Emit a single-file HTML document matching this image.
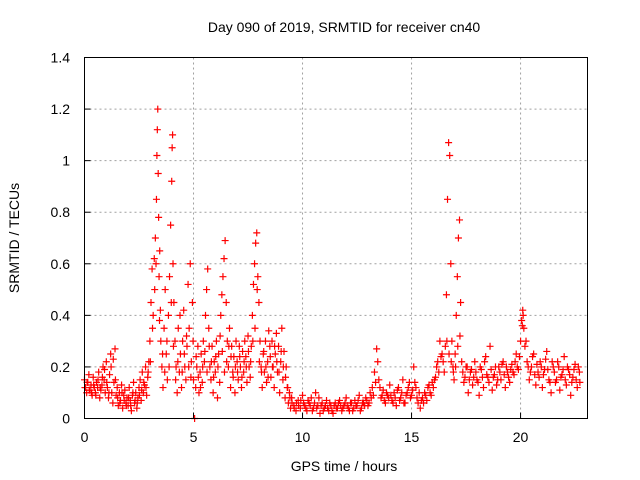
<!DOCTYPE html>
<html><head><meta charset="utf-8"><style>
html,body{margin:0;padding:0;background:#fff;}
svg{display:block;font-family:"Liberation Sans",sans-serif;}
</style></head><body>
<svg id="chart" width="640" height="480" viewBox="0 0 640 480">
<rect x="0" y="0" width="640" height="480" fill="#fff"/>
<text x="344" y="32" font-size="14" text-anchor="middle" fill="#000">Day 090 of 2019, SRMTID for receiver cn40</text>
<text x="344" y="471" font-size="14" text-anchor="middle" fill="#000">GPS time / hours</text>
<text x="19" y="238" font-size="14" text-anchor="middle" fill="#000" transform="rotate(-90 19 238)">SRMTID / TECUs</text>
<g id="grid"></g>
<g id="ticks"></g>
<g id="marks"></g>
<rect x="84.5" y="57.5" width="503" height="361" fill="none" stroke="#000" stroke-width="1"/>
</svg>
<script>
const xTicks = [0,5,10,15,20];
const yTicks = [0,0.2,0.4,0.6,0.8,1,1.2,1.4];
const yTickLabels = ["0","0.2","0.4","0.6","0.8","1","1.2","1.4"];
const hours = [0,0.05,0.1,0.15,0.2,0.25,0.3,0.35,0.4,0.45,0.5,0.55,0.6,0.65,0.7,0.75,0.8,0.85,0.9,0.95,
1,1.05,1.1,1.15,1.2,1.25,1.3,1.35,1.4,1.45,1.5,1.55,1.6,1.65,1.7,1.75,1.8,1.85,1.9,1.95,
2,2.05,2.1,2.15,2.2,2.25,2.3,2.35,2.4,2.45,2.5,2.55,2.6,2.65,2.7,2.75,2.8,2.85,2.9,2.95,
3,3.05,3.1,3.15,3.2,3.25,3.3,3.32,3.34,3.36,3.38,3.4,3.42,3.45,3.48,3.5,3.55,3.6,3.65,3.7,3.75,3.8,3.85,3.9,3.95,4,4.02,4.04,4.06,4.1,4.15,4.2,4.25,4.3,4.35,4.4,4.45,4.5,4.55,4.6,4.65,4.7,4.75,4.8,4.85,4.9,4.95,
5,5.05,5.1,5.15,5.2,5.25,5.3,5.35,5.4,5.45,5.5,5.55,5.6,5.65,5.7,5.75,5.8,5.85,5.9,5.95,
6,6.05,6.1,6.15,6.2,6.25,6.3,6.35,6.4,6.45,6.5,6.55,6.6,6.65,6.7,6.75,6.8,6.85,6.9,6.95,
7,7.05,7.1,7.15,7.2,7.25,7.3,7.35,7.4,7.45,7.5,7.55,7.6,7.65,7.7,7.75,7.8,7.85,7.9,7.95,
8,8.05,8.1,8.15,8.2,8.25,8.3,8.35,8.4,8.45,8.5,8.55,8.6,8.65,8.7,8.75,8.8,8.85,8.9,8.95,
9,9.05,9.1,9.15,9.2,9.25,9.3,9.35,9.4,9.45,9.5,9.6,9.7,9.8,9.9,
10,10.1,10.2,10.3,10.4,10.5,10.6,10.7,10.8,10.9,11,11.1,11.2,11.3,11.4,11.5,11.6,11.7,11.8,11.9,
12,12.1,12.2,12.3,12.4,12.5,12.6,12.7,12.8,12.9,13,13.1,13.2,13.3,13.4,13.45,13.5,13.6,13.7,13.8,13.9,
14,14.1,14.2,14.3,14.4,14.5,14.6,14.7,14.8,14.9,15,15.1,15.2,15.3,15.4,15.5,15.6,15.7,15.8,15.9,
16,16.1,16.2,16.3,16.4,16.5,16.6,16.65,16.7,16.75,16.8,16.85,16.9,16.95,17,17.05,17.1,17.15,17.2,17.25,17.3,17.4,17.5,17.6,17.7,17.8,17.9,
18,18.1,18.2,18.3,18.4,18.5,18.6,18.7,18.8,18.9,19,19.1,19.2,19.3,19.4,19.5,19.6,19.7,19.8,19.9,
20,20.05,20.1,20.15,20.2,20.3,20.4,20.5,20.6,20.7,20.8,20.9,21,21.1,21.2,21.3,21.4,21.5,21.6,21.7,21.8,21.9,
22,22.1,22.2,22.3,22.4,22.5,22.6,22.7];
const tecu = [.15,.12,.10,.14,.17,.11,.13,.09,.16,.12,.10,.14,.12,.18,.08,.11,.13,.20,.15,.10,
.22,.12,.08,.17,.25,.10,.06,.14,.27,.09,.12,.05,.10,.07,.13,.04,.09,.11,.06,.08,
.05,.12,.07,.03,.09,.14,.06,.10,.04,.08,.12,.15,.07,.18,.10,.13,.20,.09,.16,.22,
.30,.45,.58,.40,.62,.70,.85,1.02,1.12,1.20,.95,.78,.55,.65,.42,.30,.20,.12,.35,.50,.25,.15,.40,.55,.75,.92,1.05,1.10,.60,.45,.30,.20,.10,.35,.18,.25,.12,.30,.42,.20,.15,.28,.52,.35,.60,.22,.45,
.15,0,.12,.20,.28,.10,.18,.25,.14,.30,.22,.40,.50,.58,.35,.20,.15,.28,.10,.22,
.18,.30,.08,.25,.14,.40,.48,.55,.62,.69,.45,.30,.20,.35,.12,.28,.18,.24,.10,.30,
.22,.15,.28,.20,.12,.26,.18,.30,.24,.14,.32,.20,.16,.28,.40,.52,.60,.68,.72,.55,
.45,.30,.20,.12,.25,.18,.30,.14,.22,.34,.28,.16,.30,.20,.12,.25,.33,.18,.28,.10,
.22,.35,.15,.26,.08,.20,.12,.06,.10,.04,.08,.05,.03,.07,.04,
.09,.05,.03,.06,.08,.04,.10,.05,.02,.06,.04,.07,.03,.05,.02,.06,.04,.07,.03,.05,
.08,.04,.06,.03,.07,.05,.09,.04,.06,.08,.05,.10,.12,.18,.27,.22,.15,.08,.11,.06,.09,
.13,.07,.10,.05,.12,.08,.15,.06,.10,.14,.09,.20,.12,.06,.04,.08,.10,.07,.13,.09,
.12,.16,.22,.30,.25,.18,.48,.85,1.07,1.02,.60,.30,.20,.15,.25,.40,.55,.70,.77,.45,.22,.14,.20,.10,.18,.13,.22,
.15,.09,.19,.12,.24,.16,.28,.11,.17,.13,.20,.15,.22,.12,.18,.14,.21,.17,.25,.19,
.30,.38,.42,.35,.28,.22,.15,.20,.25,.13,.18,.22,.12,.19,.26,.15,.10,.20,.14,.22,.11,.17,
.24,.13,.19,.09,.16,.21,.12,.18];
const hoursB = [0.02,0.12,0.22,0.32,0.42,0.52,0.62,0.72,0.82,0.92,1.02,1.12,1.22,1.32,1.42,1.52,1.62,1.72,1.82,1.92,
2.02,2.12,2.22,2.32,2.42,2.52,2.62,2.72,2.82,2.92,3.02,3.12,3.22,3.28,3.44,3.58,3.68,3.78,3.88,3.98,4.08,4.18,4.28,4.38,4.48,4.58,4.68,4.78,4.88,4.98,
5.12,5.22,5.32,5.42,5.52,5.62,5.72,5.82,5.92,6.02,6.12,6.22,6.32,6.42,6.52,6.62,6.72,6.82,6.92,
7.02,7.12,7.22,7.32,7.42,7.52,7.62,7.72,7.82,7.92,8.02,8.12,8.22,8.32,8.42,8.52,8.62,8.72,8.82,8.92,9.02,9.12,9.22,9.32,9.42,9.52,9.62,9.72,9.82,9.92,
10.05,10.15,10.25,10.35,10.45,10.55,10.65,10.75,10.85,10.95,11.05,11.15,11.25,11.35,11.45,11.55,11.65,11.75,11.85,11.95,
12.05,12.15,12.25,12.35,12.45,12.55,12.65,12.75,12.85,12.95,13.05,13.15,13.25,13.35,13.55,13.65,13.75,13.85,13.95,
14.05,14.15,14.25,14.35,14.45,14.55,14.65,14.75,14.85,14.95,15.05,15.15,15.25,15.35,15.45,15.55,15.65,15.75,15.85,15.95,
16.05,16.15,16.25,16.35,16.45,16.55,16.62,16.72,16.82,16.92,17.02,17.12,17.22,17.35,17.45,17.55,17.65,17.75,17.85,17.95,
18.05,18.15,18.25,18.35,18.45,18.55,18.65,18.75,18.85,18.95,19.05,19.15,19.25,19.35,19.45,19.55,19.65,19.75,19.85,19.95,
20.08,20.12,20.25,20.35,20.45,20.55,20.65,20.75,20.85,20.95,21.05,21.15,21.25,21.35,21.45,21.55,21.65,21.75,21.85,21.95,
22.05,22.15,22.25,22.35,22.45,22.55,22.65,22.72];
const tecuB = [.12,.14,.11,.10,.13,.09,.15,.12,.16,.19,.14,.10,.20,.23,.15,.08,.06,.10,.07,.05,
.08,.05,.10,.07,.06,.09,.11,.14,.12,.18,.22,.35,.50,.60,.38,.25,.18,.30,.20,.45,.28,.15,.22,.40,.18,.25,.32,.20,.16,.30,
.24,.16,.12,.20,.26,.18,.28,.22,.16,.24,.20,.32,.26,.18,.22,.28,.24,.16,.20,
.18,.24,.16,.22,.20,.26,.22,.30,.35,.50,.22,.18,.26,.20,.16,.24,.20,.28,.22,.18,.26,.20,.16,.12,.08,.06,.04,.06,.05,.07,
.06,.04,.07,.05,.03,.06,.04,.08,.05,.03,.05,.04,.06,.03,.05,.04,.06,.05,.04,.06,
.05,.03,.06,.04,.05,.07,.03,.06,.05,.07,.06,.08,.09,.14,.12,.09,.07,.10,.08,
.09,.06,.08,.11,.07,.10,.06,.09,.12,.08,.11,.14,.08,.10,.07,.06,.09,.12,.10,.14,
.15,.20,.18,.24,.22,.28,.30,.25,.22,.18,.20,.28,.32,.18,.16,.20,.15,.19,.16,.18,
.14,.20,.16,.22,.17,.14,.19,.16,.20,.15,.18,.21,.17,.20,.16,.19,.18,.22,.20,.24,
.36,.40,.30,.20,.18,.24,.17,.21,.16,.20,.17,.23,.19,.14,.22,.18,.15,.20,.16,.19,
.15,.20,.17,.14,.19,.15,.20,.14];

const X0=84.5, X1=587.5, Y0=418.5, Y1=57.5, XMAX=23.07, YMAX=1.4;
function xs(v){return X0+(v/XMAX)*(X1-X0);}
function ys(v){return Y0-(v/YMAX)*(Y0-Y1);}
const NS="http://www.w3.org/2000/svg";
const grid=document.getElementById('grid'), ticks=document.getElementById('ticks'), marks=document.getElementById('marks');
function mk(tag,attrs,parent){const e=document.createElementNS(NS,tag);for(const k in attrs)e.setAttribute(k,attrs[k]);parent.appendChild(e);return e;}
xTicks.forEach(t=>{
  const x=xs(t);
  if(t>0){const g=mk('line',{x1:x,y1:Y1,x2:x,y2:Y0,stroke:'#a0a0a0','stroke-dasharray':'2,3'},grid);
  
  }
  const tl=mk('line',{x1:x,y1:Y0,x2:x,y2:Y0-6,stroke:'#000'},ticks);
  
  
  const tx=mk('text',{x:x,y:442,'font-size':14,'text-anchor':'middle',fill:'#000'},ticks);
  tx.textContent=String(t);
  
  
});
yTicks.forEach((t,i)=>{
  const y=ys(t);
  if(t>0&&t<YMAX){const g=mk('line',{x1:X0,y1:y,x2:X1,y2:y,stroke:'#a0a0a0','stroke-dasharray':'2,3'},grid);
  
  }
  const tl=mk('line',{x1:X0,y1:y,x2:X0+6,y2:y,stroke:'#000'},ticks);
  
  
  const tx=mk('text',{x:70,y:y+5,'font-size':14,'text-anchor':'end',fill:'#000'},ticks);
  tx.textContent=yTickLabels[i];
  
  
});
function plot(hs,vs){
  hs.forEach((h,i)=>{
    const x=xs(h), y=ys(vs[i]);
    const p=mk('path',{d:`M${x-3.5},${y}H${x+3.5}M${x},${y-3.5}V${y+3.5}`,stroke:'#ff0000','stroke-width':1.2,fill:'none'},marks);
    
    
  });
}
plot(hours,tecu);
plot(hoursB,tecuB);
</script>
</body></html>
